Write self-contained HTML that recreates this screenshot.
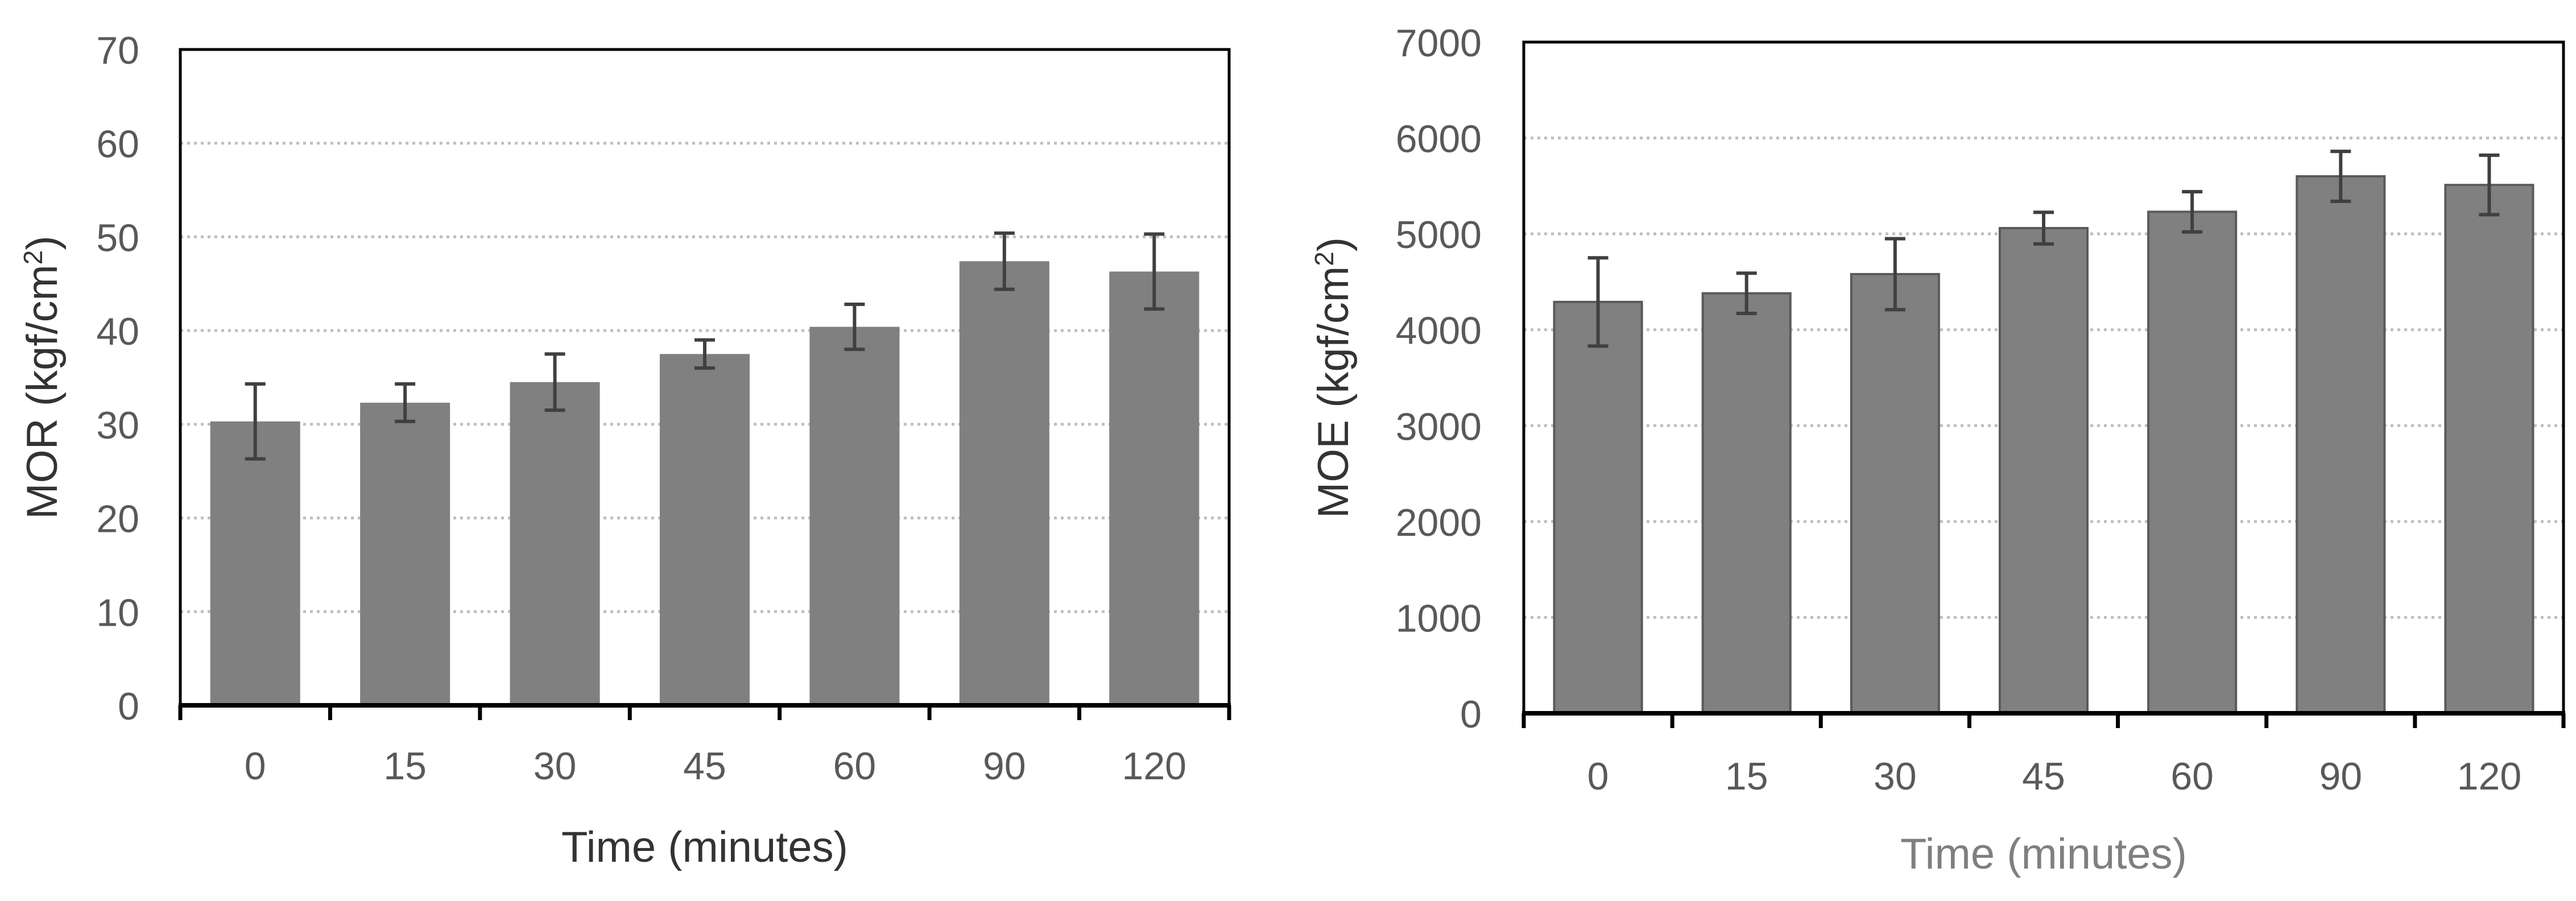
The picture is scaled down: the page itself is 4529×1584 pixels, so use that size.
<!DOCTYPE html>
<html><head><meta charset="utf-8"><style>
html,body{margin:0;padding:0;background:#fff;width:4529px;height:1584px;overflow:hidden}
svg{display:block}
text{font-family:"Liberation Sans",sans-serif}
</style></head><body>
<svg id="svg" width="4529" height="1584" viewBox="0 0 4529 1584" xmlns="http://www.w3.org/2000/svg"></svg>
<script>
const categories = ["0","15","30","45","60","90","120"];
const morValues = [30.3, 32.3, 34.5, 37.5, 40.4, 47.4, 46.3];
const morErrors = [4.0, 2.0, 3.0, 1.5, 2.4, 3.0, 4.0];
const morTicks = [0,10,20,30,40,50,60,70];
const moeValues = [4290, 4380, 4580, 5060, 5230, 5600, 5510];
const moeErrors = [460, 210, 370, 165, 210, 260, 310];
const moeTicks = [0,1000,2000,3000,4000,5000,6000,7000];

const NS = "http://www.w3.org/2000/svg";
const svg = document.getElementById('svg');
function mk(tag, attrs, parent){
  const e = document.createElementNS(NS, tag);
  for (const k in attrs) e.setAttribute(k, attrs[k]);
  (parent||svg).appendChild(e);
  return e;
}

function chart(cfg){
  const g = mk('g', {});
  
  
  const L=cfg.left, R=cfg.right, T=cfg.top, B=cfg.bottom;
  const maxV = cfg.ticks[cfg.ticks.length-1];
  const yScale = v => B - (v/maxV)*(B-T);
  const cw = (R-L)/categories.length;
  const xCenter = i => L + cw*(i+0.5);

  // gridlines
  cfg.ticks.forEach((t,i)=>{
    if (t===0 || t===maxV) return;
    const ln = mk('line',{x1:L,x2:R,y1:yScale(t),y2:yScale(t),stroke:'#bfbfbf','stroke-width':5,'stroke-dasharray':'5 7'},g);
    
    
  });
  // tick labels
  cfg.ticks.forEach(t=>{
    const tx = mk('text',{x:cfg.tickX,y:yScale(t)+25,'text-anchor':'end','font-size':68,fill:'#595959'},g);
    tx.textContent = t;
    
    
  });
  // bars
  cfg.values.forEach((v,i)=>{
    const bw = cw*cfg.barFrac;
    const r = mk('rect',{x:xCenter(i)-bw/2,y:yScale(v),width:bw,height:B-yScale(v),fill:'#808080',stroke:cfg.barStroke,'stroke-width':cfg.barStroke==='none'?0:4},g);
    
    
    const e = cfg.errors[i];
    const eg = mk('g',{stroke:'#404040','stroke-width':6},g);
    
    
    mk('line',{x1:xCenter(i),x2:xCenter(i),y1:yScale(v+e),y2:yScale(v-e)},eg);
    mk('line',{x1:xCenter(i)-18,x2:xCenter(i)+18,y1:yScale(v+e),y2:yScale(v+e)},eg);
    mk('line',{x1:xCenter(i)-18,x2:xCenter(i)+18,y1:yScale(v-e),y2:yScale(v-e)},eg);
    const cl = mk('text',{x:xCenter(i),y:cfg.catY,'text-anchor':'middle','font-size':68,fill:'#595959'},g);
    cl.textContent = categories[i];
    
    
  });
  // frame
  const fr = mk('rect',{x:L,y:T,width:R-L,height:B-T,fill:'none',stroke:'#000','stroke-width':5},g);
  
  
  const ax = mk('line',{x1:L-3,x2:R+3,y1:B,y2:B,stroke:'#000','stroke-width':8},g);
  
  
  for (let i=0;i<=categories.length;i++){
    const tk = mk('line',{x1:L+cw*i,x2:L+cw*i,y1:B,y2:B+26,stroke:'#000','stroke-width':7},g);
    
    
  }
  // axis titles
  const yt = mk('text',{x:0,y:0,'text-anchor':'middle','font-size':76,fill:'#333','transform':`translate(${cfg.yTitleX},${(T+B)/2}) rotate(-90)`},g);
  yt.innerHTML = cfg.yTitle + ' (kgf/cm<tspan baseline-shift="super" font-size="46">2</tspan>)';
  
  
  const xt = mk('text',{x:(L+R)/2,y:cfg.xTitleY,'text-anchor':'middle','font-size':76,fill:cfg.xTitleColor},g);
  xt.textContent = 'Time (minutes)';
  
  
}

chart({name:'mor-chart', values:morValues, errors:morErrors, ticks:morTicks,
  left:317, right:2161, top:87, bottom:1240, tickX:245, catY:1370, barFrac:0.6, barStroke:'none',
  yTitleX:100, yTitle:'MOR', xTitleY:1515, xTitleColor:'#333'});
chart({name:'moe-chart', values:moeValues, errors:moeErrors, ticks:moeTicks,
  left:2679, right:4507, top:74, bottom:1254, tickX:2605, catY:1388, barFrac:0.59, barStroke:'#5a5a5a',
  yTitleX:2370, yTitle:'MOE', xTitleY:1527, xTitleColor:'#7f7f7f'});
</script>
</body></html>
